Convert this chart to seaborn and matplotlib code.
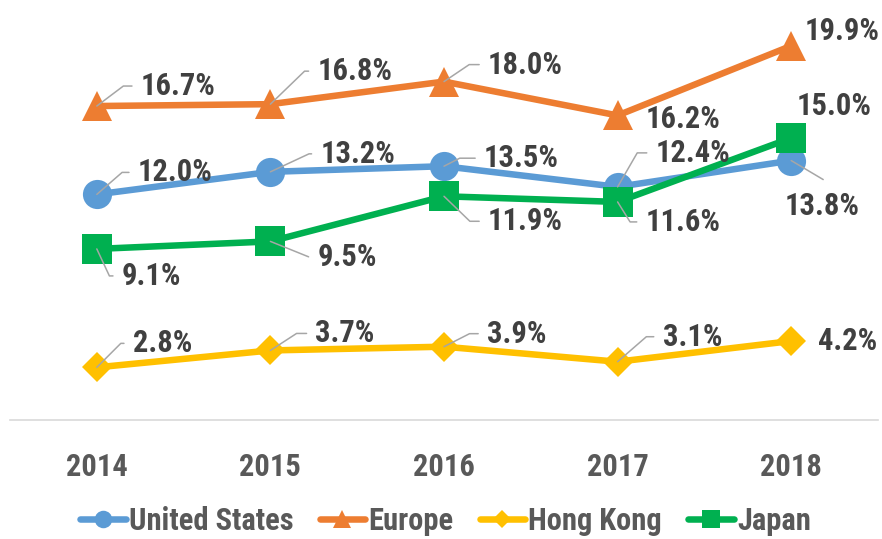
import matplotlib
matplotlib.use("Agg")
import numpy as np
import pandas as pd
import matplotlib.pyplot as plt
import seaborn as sns

# data (percent)
years = [2014, 2015, 2016, 2017, 2018]
united_states = [12.0, 13.2, 13.5, 12.4, 13.8]
europe = [16.7, 16.8, 18.0, 16.2, 19.9]
hong_kong = [2.8, 3.7, 3.9, 3.1, 4.2]
japan = [9.1, 9.5, 11.9, 11.6, 15.0]
series_names = ["United States", "Europe", "Hong Kong", "Japan"]

df = pd.DataFrame({
    "Year": years * 4,
    "Value": united_states + europe + hong_kong + japan,
    "Series": np.repeat(series_names, len(years)),
})

# look of each series
styles = {
    "United States": dict(color="#5B9BD5", marker="o", ms=21),
    "Europe": dict(color="#ED7D31", marker="^", ms=22),
    "Hong Kong": dict(color="#FFC000", marker="D", ms=15),
    "Japan": dict(color="#00B050", marker="s", ms=21),
}

# label placement: text offset in pixels (left-middle of text) and leader angle
label_pos = {
    "United States": [(41, 22, 41), (50, 18, 25), (40, 8, 27), (38, 34, 60), (-7, -45, "straight")],
    "Europe": [(44, 20, 37), (47, 33, 44), (44, 17, 34), (28, -4, None), (13, 15, None)],
    "Hong Kong": [(36, 24, 45), (45, 17, 33), (43, 13, 27), (45, 25, 41), (27, 0, None)],
    "Japan": [(25, -27, -65), (47, -16, -22), (44, -25, -44), (28, -20, -58), (5, 32, None)],
}

sns.set_theme(style="white")
plt.rcParams["font.family"] = ["Liberation Sans Narrow", "Roboto Condensed",
                               "DejaVu Sans Condensed", "Roboto", "DejaVu Sans"]
plt.rcParams["font.weight"] = "bold"
FS = 22

fig = plt.figure(figsize=(8.82, 5.39), dpi=100)
ax = fig.add_axes([10 / 882, 119 / 539, 868 / 882, 22 * 18.8 / 539])

for name in series_names:
    st = styles[name]
    sub = df[df["Series"] == name]
    sns.lineplot(data=sub, x="Year", y="Value", ax=ax, color=st["color"],
                 marker=st["marker"], markersize=st["ms"], markeredgewidth=0,
                 linewidth=4.7, label=name, legend=False)

leader = dict(arrowstyle="-", color="#A6A6A6", lw=1.1, shrinkB=0)
for name in series_names:
    sub = df[df["Series"] == name]
    for (x, y), (dx, dy, ang) in zip(zip(sub["Year"], sub["Value"]), label_pos[name]):
        txt = f"{y:.1f}%"
        kw = dict(xy=(x, y), xytext=(dx, dy), textcoords="offset pixels",
                  ha="left", va="center", fontsize=FS, color="#404040",
                  fontweight="bold", zorder=10)
        if ang is None:
            ax.annotate(txt, **kw)
        elif ang == "straight":
            ax.annotate(txt, **kw)
            ax.annotate("", xy=(x, y), xytext=(32, -19), textcoords="offset pixels",
                        arrowprops=dict(leader, shrinkA=0), zorder=9)
        else:
            ax.annotate(txt, **kw,
                        arrowprops=dict(leader, shrinkA=4, relpos=(0, 0.5),
                                        connectionstyle=f"angle,angleA=0,angleB={ang},rad=0"))

ax.set_xlim(2013.5, 2018.5)
ax.set_ylim(0, 22)
ax.set_xticks(years)
ax.set_xticklabels([str(y) for y in years])
ax.set_yticks([])
ax.set_xlabel("")
ax.set_ylabel("")
ax.tick_params(axis="x", length=0, pad=23, labelsize=FS, labelcolor="#595959")
for lab in ax.get_xticklabels():
    lab.set_fontweight("bold")
for side in ["top", "left", "right"]:
    ax.spines[side].set_visible(False)
ax.spines["bottom"].set_color("#D9D9D9")
ax.spines["bottom"].set_linewidth(1.2)

handles, labels = ax.get_legend_handles_labels()
leg = fig.legend(handles, labels, loc="center", bbox_to_anchor=(0.505, 1 - 521 / 539),
                 ncol=4, frameon=False, fontsize=FS, handlelength=1.5,
                 handletextpad=0.1, columnspacing=0.85, markerscale=0.6)
for t in leg.get_texts():
    t.set_color("#595959")
    t.set_fontweight("bold")

fig.savefig("out.png", dpi=100)
